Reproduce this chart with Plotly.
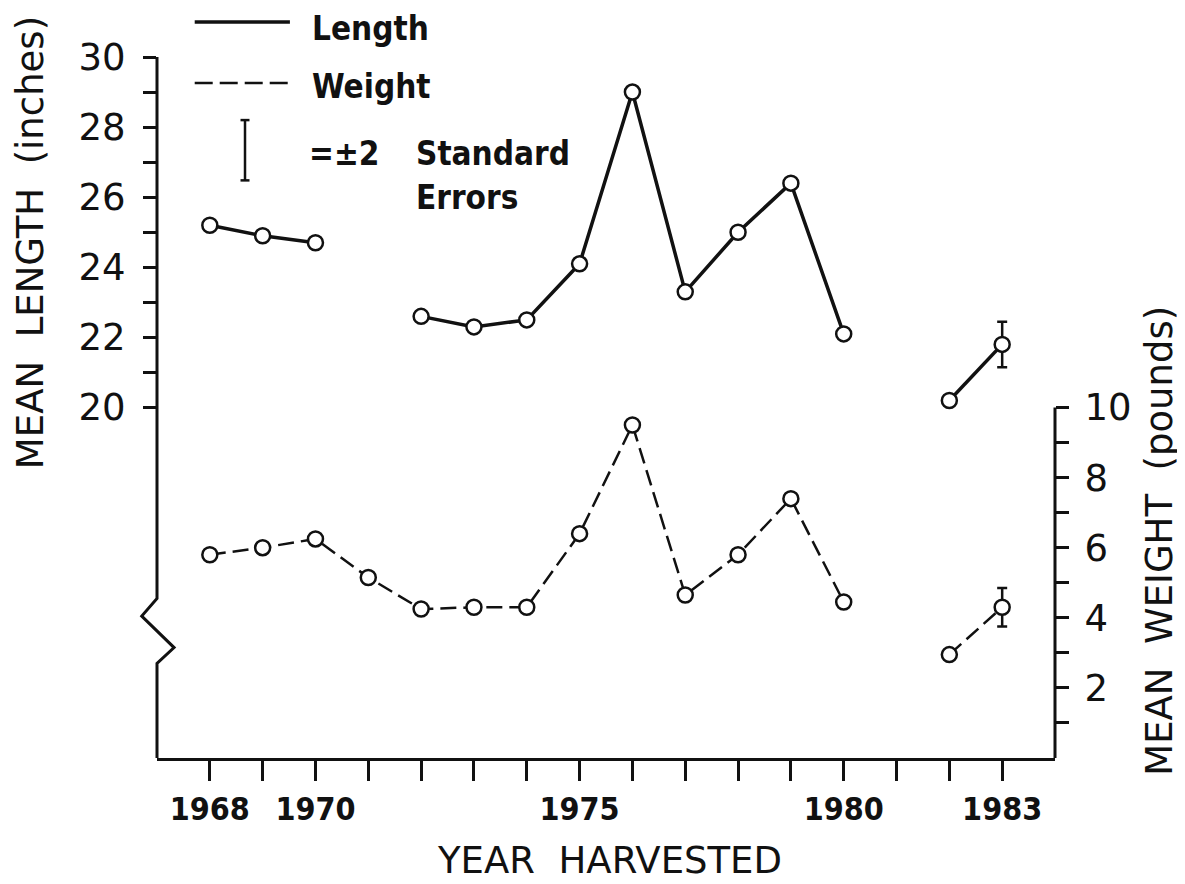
import plotly.graph_objects as go

# values
years = list(range(1968, 1984))
length_in = [25.2, 24.9, 24.7, None, 22.6, 22.3, 22.5, 24.1, 29.0, 23.3, 25.0, 26.4, 22.1, None, 20.2, 21.8]
weight_lb = [5.8, 6.0, 6.25, 5.15, 4.25, 4.3, 4.3, 6.4, 9.5, 4.65, 5.8, 7.4, 4.45, None, 2.95, 4.3]
length_err = [0] * 15 + [0.65]
weight_err = [0] * 15 + [0.55]

year_labels = {1968: "1968", 1970: "1970", 1975: "1975", 1980: "1980", 1983: "1983"}
length_ticks = list(range(20, 31))
weight_ticks = list(range(1, 11))

BLACK = "#111111"
SANS = "DejaVu Sans"
COND = "DejaVu Sans Condensed"

fig = go.Figure()

marker = dict(symbol="circle", size=15, color="white", line=dict(color=BLACK, width=2.5))

fig.add_trace(go.Scatter(
    x=years, y=length_in, mode="lines+markers", name="Length",
    line=dict(color=BLACK, width=3.5), marker=marker, connectgaps=False,
    error_y=dict(type="data", array=length_err, visible=True, color=BLACK, thickness=2.5, width=5),
))
fig.add_trace(go.Scatter(
    x=years, y=weight_lb, mode="lines+markers", name="Weight", yaxis="y2",
    line=dict(color=BLACK, width=2.5, dash="16px,7px"), marker=marker, connectgaps=False,
    error_y=dict(type="data", array=weight_err, visible=True, color=BLACK, thickness=2.5, width=5),
))

# the page body adds an 8px margin, so the figure is sized a little smaller
fig.update_layout(
    width=1177, height=876,
    margin=dict(l=149, r=130, t=49, b=126, autoexpand=False),
    paper_bgcolor="white", plot_bgcolor="white",
    showlegend=False,
    xaxis=dict(
        range=[1967, 1984], tickvals=years,
        ticktext=[year_labels.get(y, "") for y in years],
        ticks="outside", ticklen=20, tickwidth=3, tickcolor=BLACK,
        showline=True, linecolor=BLACK, linewidth=3, automargin=False,
        showgrid=False, zeroline=False, ticklabelstandoff=1,
        tickfont=dict(family=COND, size=32, color=BLACK, weight="bold"),
    ),
    yaxis=dict(
        range=[10, 30], tickvals=length_ticks,
        ticktext=[str(v) if v % 2 == 0 else "" for v in length_ticks],
        ticks="outside", ticklen=13, tickwidth=3, tickcolor=BLACK, automargin=False,
        showline=False, showgrid=False, zeroline=False, ticklabelstandoff=10,
        tickfont=dict(family=SANS, size=37, color=BLACK, weight=500),
    ),
    yaxis2=dict(
        range=[0, 20], overlaying="y", side="right", tickvals=weight_ticks,
        ticktext=[str(v) if v % 2 == 0 else "" for v in weight_ticks],
        ticks="outside", ticklen=13, tickwidth=3, tickcolor=BLACK, automargin=False,
        showline=False, showgrid=False, zeroline=False, ticklabelstandoff=8,
        tickfont=dict(family=SANS, size=37, color=BLACK, weight=500),
    ),
)

# left axis with the break symbol, right axis only up to 10 lb
fig.add_shape(type="path", xref="paper", yref="y",
              path="M 0 30 L 0 14.55 L -0.017 14.05 L 0.019 13.15 L 0 12.7 L 0 10",
              line=dict(color=BLACK, width=3))
fig.add_shape(type="line", xref="paper", yref="y2", x0=1, x1=1, y0=0, y1=10,
              line=dict(color=BLACK, width=3))

# hand-drawn key in the top-left corner
fig.add_shape(type="line", xref="paper", yref="paper", x0=0.042, x1=0.148, y0=1.050, y1=1.050,
              line=dict(color=BLACK, width=3.5))
fig.add_shape(type="line", xref="paper", yref="paper", x0=0.042, x1=0.148, y0=0.963, y1=0.963,
              line=dict(color=BLACK, width=2.5, dash="18px,7px"))
fig.add_shape(type="line", xref="paper", yref="paper", x0=0.098, x1=0.098, y0=0.824, y1=0.910,
              line=dict(color=BLACK, width=2.5))
for yy in (0.824, 0.910):
    fig.add_shape(type="line", xref="paper", yref="paper", x0=0.093, x1=0.103, y0=yy, y1=yy,
                  line=dict(color=BLACK, width=2.5))

key_font = dict(family=COND, size=33, color=BLACK, weight="bold")
for txt, x, y in [("Length", 0.172, 1.041), ("Weight", 0.172, 0.958),
                  ("=±2", 0.168, 0.862), ("Standard", 0.287, 0.862), ("Errors", 0.287, 0.800)]:
    fig.add_annotation(text=txt, x=x, y=y, xref="paper", yref="paper", xanchor="left",
                       yanchor="middle", showarrow=False, font=key_font, borderpad=0)

title_font = dict(family=SANS, size=37, color=BLACK, weight=500)
fig.add_annotation(text="MEAN  LENGTH  (inches)", x=-0.141, y=0.735, xref="paper", yref="paper",
                   xanchor="center", yanchor="middle",
                   textangle=-90, showarrow=False, font=title_font)
fig.add_annotation(text="MEAN  WEIGHT  (pounds)", x=1.117, y=0.31, xref="paper", yref="paper",
                   xanchor="center", yanchor="middle",
                   textangle=-90, showarrow=False, font=title_font)
fig.add_annotation(text="YEAR  HARVESTED", x=0.504, y=-0.146, xref="paper", yref="paper",
                   xanchor="center", yanchor="middle", borderpad=0,
                   showarrow=False, font=title_font)

fig.write_html("out.html")
